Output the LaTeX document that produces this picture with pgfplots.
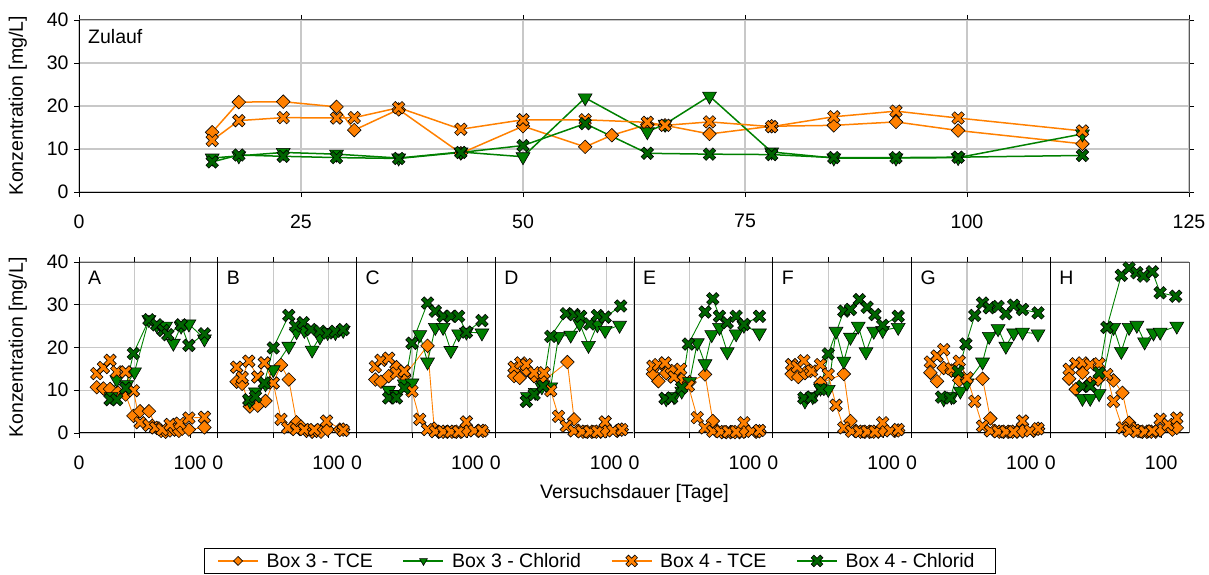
\documentclass[border=0pt]{standalone}
\usepackage{fontspec}
\setmainfont{Liberation Sans}
\usepackage{pgfplots}
\pgfplotsset{compat=1.18}

\definecolor{tceorange}{HTML}{FF8000}
\definecolor{clgreen}{HTML}{008000}
\definecolor{clgreendark}{HTML}{006400}
\definecolor{gridgray}{HTML}{C8C8C8}

% filled diamond (rotated square)
\pgfdeclareplotmark{dia}{%
  \pgfpathmoveto{\pgfqpoint{0pt}{\pgfplotmarksize}}%
  \pgfpathlineto{\pgfqpoint{\pgfplotmarksize}{0pt}}%
  \pgfpathlineto{\pgfqpoint{0pt}{-\pgfplotmarksize}}%
  \pgfpathlineto{\pgfqpoint{-\pgfplotmarksize}{0pt}}%
  \pgfpathclose
  \pgfusepathqfillstroke}
% outlined, filled cross
\pgfdeclareplotmark{fatx}{%
  \pgfpathmoveto{\pgfqpoint{-0.7\pgfplotmarksize}{1.3\pgfplotmarksize}}%
  \pgfpathlineto{\pgfqpoint{0pt}{0.6\pgfplotmarksize}}%
  \pgfpathlineto{\pgfqpoint{0.7\pgfplotmarksize}{1.3\pgfplotmarksize}}%
  \pgfpathlineto{\pgfqpoint{1.3\pgfplotmarksize}{0.7\pgfplotmarksize}}%
  \pgfpathlineto{\pgfqpoint{0.6\pgfplotmarksize}{0pt}}%
  \pgfpathlineto{\pgfqpoint{1.3\pgfplotmarksize}{-0.7\pgfplotmarksize}}%
  \pgfpathlineto{\pgfqpoint{0.7\pgfplotmarksize}{-1.3\pgfplotmarksize}}%
  \pgfpathlineto{\pgfqpoint{0pt}{-0.6\pgfplotmarksize}}%
  \pgfpathlineto{\pgfqpoint{-0.7\pgfplotmarksize}{-1.3\pgfplotmarksize}}%
  \pgfpathlineto{\pgfqpoint{-1.3\pgfplotmarksize}{-0.7\pgfplotmarksize}}%
  \pgfpathlineto{\pgfqpoint{-0.6\pgfplotmarksize}{0pt}}%
  \pgfpathlineto{\pgfqpoint{-1.3\pgfplotmarksize}{0.7\pgfplotmarksize}}%
  \pgfpathclose
  \pgfusepathqfillstroke}

\pgfplotsset{
  b3tce/.style={color=tceorange, mark=dia, mark size=6.8bp,
    mark options={draw=black, fill=tceorange, line width=0.6bp}},
  b3cl/.style={color=clgreen, mark=triangle*, mark size=8bp,
    mark options={draw=black, fill=clgreen, rotate=180, line width=0.6bp}},
  b4tce/.style={color=tceorange, mark=fatx, mark size=4.8bp,
    mark options={draw=black, fill=tceorange, line width=0.6bp}},
  b4cl/.style={color=clgreen, mark=fatx, mark size=4.8bp,
    mark options={draw=black, fill=clgreendark, line width=0.6bp}},
  base/.style={scale only axis, anchor=south west,
    xmin=0, xmax=125, ymin=0, ymax=40, ytick={0,10,20,30,40},
    grid=major, major grid style={draw=gridgray, line width=1.2bp},
    tick align=outside, major tick length=5bp,
    tick style={black, line width=0.8bp},
    axis line style={draw=black!65, line width=1bp},
    xticklabel style={yshift=-14bp},
    yticklabel style={xshift=-2bp},
    clip=false, /pgf/number format/assume math mode=true,
    every axis y label/.style={rotate=90, anchor=center}},
  panel/.style={base, width=138.75bp, height=171bp,
    xtick={0,50,100}, xticklabels={0,,100},
    every axis plot/.append style={line width=0.9bp}},
  inner/.style={panel, yticklabels={}, ytick style={draw=none}},
  legend image code/.code={%
    \draw[mark repeat=2, mark phase=2] plot coordinates {(0bp,0bp) (20bp,0bp) (40bp,0bp)};},
}

\newcommand{\frameLB}{\draw[black, line width=1bp] (rel axis cs:0,1) -- (rel axis cs:0,0) -- (rel axis cs:1,0);}
\newcommand{\plabel}[1]{\node[anchor=north west, inner sep=0pt, xshift=9bp, yshift=-9bp] at (rel axis cs:0,1) {#1};}

\begin{document}
\begin{tikzpicture}[font=\fontsize{19.5bp}{23bp}\selectfont]
\useasboundingbox (0,0) rectangle (1209bp,575bp);

% ---- inflow ----
\begin{axis}[base, at={(79bp,383bp)}, width=1110bp, height=172bp,
  xtick={0,25,50,75,100,125},
  every axis plot/.append style={line width=1.5bp},
  ylabel={Konzentration [mg/L]},
  every axis y label/.append style={at={(axis description cs:-0.055,0.5)}},
  legend columns=4,
  legend style={at={(0.4694,-2.145)}, anchor=center, draw=black, line width=0.8bp,
    inner xsep=13bp, inner ysep=1bp,
    /tikz/every even column/.append style={column sep=22bp},
    nodes={inner xsep=8bp, inner ysep=4bp}},
  legend image post style={line width=1.2bp, mark size=4.5bp},
  ]
\frameLB
\addplot[b3tce] coordinates {(15,13.9)(18,20.9)(23,21.0)(29,19.8)(31,14.4)(36,19.2)(43,9.0)(50,15.3)(57,10.5)(60,13.2)(64,15.7)(66,15.5)(71,13.5)(78,15.3)(85,15.5)(92,16.3)(99,14.3)(113,11.2)};
\addplot[b3cl] coordinates {(15,7.9)(18,8.4)(23,9.2)(29,8.8)(36,7.9)(43,9.3)(50,8.2)(57,21.9)(64,14.0)(66,15.8)(71,22.3)(78,9.3)(85,7.9)(92,7.9)(99,8.0)(113,13.5)};
\addplot[b4tce] coordinates {(15,12.0)(18,16.6)(23,17.3)(29,17.2)(31,17.3)(36,19.6)(43,14.6)(50,16.8)(57,16.8)(64,16.2)(66,15.5)(71,16.3)(78,15.2)(85,17.5)(92,18.8)(99,17.2)(113,14.2)};
\addplot[b4cl] coordinates {(15,7.0)(18,8.6)(23,8.3)(29,8.0)(36,7.8)(43,9.2)(50,10.8)(57,15.9)(64,9.0)(71,8.8)(78,8.7)(85,8.0)(92,8.0)(99,8.1)(113,8.5)};
\legend{Box 3 - TCE, Box 3 - Chlorid, Box 4 - TCE, Box 4 - Chlorid}
\plabel{Zulauf}
\end{axis}

% ---- A ----
\begin{axis}[panel, at={(79bp,142bp)},
  ylabel={Konzentration [mg/L]},
  every axis y label/.append style={at={(axis description cs:-0.44,0.5)}}]
\frameLB
\addplot[b3tce] coordinates {(16,10.7)(22,10.4)(28,10.3)(35,9.5)(42,9.0)(49,4.0)(55,5.1)(63,5.1)(70,1.2)(74,0.5)(78,0.3)(82,0.6)(86,0.8)(90,0.5)(93,1.0)(99,0.8)(113,1.3)};
\addplot[b3cl] coordinates {(29,8.5)(34,12.5)(43,11.3)(50,14.3)(63,26.5)(70,25.2)(78,25.0)(85,21.0)(92,25.0)(99,25.5)(113,22.0)};
\addplot[b4tce] coordinates {(16,13.9)(22,15.3)(28,17.0)(34,14.3)(42,14.3)(49,9.9)(55,2.4)(63,1.8)(69,1.2)(75,0.8)(82,2.0)(91,2.3)(99,3.5)(113,3.7)};
\addplot[b4cl] coordinates {(28,7.8)(34,7.8)(42,10.5)(49,18.6)(63,26.5)(70,25.3)(76,24.0)(80,23.0)(92,25.3)(99,20.5)(113,23.2)};
\plabel{A}
\end{axis}

% ---- B ----
\begin{axis}[inner, at={(217.75bp,142bp)}]
\frameLB
\addplot[b3tce] coordinates {(17,12.0)(22,11.5)(29,6.2)(36,6.4)(43,7.5)(57,15.9)(64,12.5)(71,2.5)(75,1.5)(80,0.5)(85,0.3)(89,0.5)(93,0.3)(99,0.8)(110,0.8)(113,0.8)};
\addplot[b3cl] coordinates {(29,7.5)(34,9.6)(43,11.5)(50,14.8)(64,20.3)(71,23.7)(78,24.0)(85,19.4)(92,22.5)(99,23.5)(106,23.5)(113,24.0)};
\addplot[b4tce] coordinates {(17,15.4)(22,13.0)(28,16.8)(36,13.1)(42,16.4)(50,11.7)(57,3.2)(63,1.2)(71,0.8)(78,0.8)(87,0.8)(98,2.8)(113,0.6)};
\addplot[b4cl] coordinates {(28,7.8)(34,8.5)(42,11.7)(50,19.9)(64,27.5)(70,25.0)(77,25.8)(84,24.2)(92,23.8)(99,23.4)(106,23.8)(113,24.2)};
\plabel{B}
\end{axis}

% ---- C ----
\begin{axis}[inner, at={(356.5bp,142bp)}]
\frameLB
\addplot[b3tce] coordinates {(17,12.5)(22,12.0)(29,13.3)(36,15.4)(43,13.3)(64,20.4)(70,1.0)(74,0.3)(78,0.3)(82,0.3)(86,0.3)(90,0.3)(94,0.3)(99,0.5)(110,0.5)(114,0.5)};
\addplot[b3cl] coordinates {(29,10.0)(36,9.0)(43,11.5)(50,11.7)(57,23.0)(64,16.6)(71,24.7)(78,24.7)(85,19.3)(92,23.2)(99,23.6)(113,23.4)};
\addplot[b4tce] coordinates {(17,15.5)(22,17.0)(29,17.5)(36,14.0)(43,14.5)(50,9.8)(57,3.2)(64,0.8)(71,0.3)(78,0.3)(85,0.3)(92,0.3)(99,2.6)(106,0.5)(113,0.5)};
\addplot[b4cl] coordinates {(29,8.2)(36,8.2)(43,10.5)(50,21.0)(64,30.4)(71,28.5)(78,27.3)(85,27.3)(92,27.3)(99,23.6)(113,26.3)};
\plabel{C}
\end{axis}

% ---- D ----
\begin{axis}[inner, at={(495.25bp,142bp)}]
\frameLB
\addplot[b3tce] coordinates {(17,13.3)(22,12.9)(28,14.8)(35,13.3)(43,12.1)(65,16.6)(71,3.2)(75,0.5)(79,0.3)(83,0.3)(87,0.3)(91,0.3)(95,0.3)(99,0.4)(110,0.5)(114,0.8)};
\addplot[b3cl] coordinates {(29,8.5)(36,9.5)(42,10.8)(50,10.8)(57,22.6)(68,22.9)(76,25.6)(84,20.5)(92,25.3)(99,24.0)(112,25.2)};
\addplot[b4tce] coordinates {(17,15.4)(23,16.4)(28,16.0)(35,14.1)(44,14.1)(50,9.9)(57,3.9)(64,1.6)(71,0.5)(78,0.3)(85,0.3)(92,0.3)(99,2.6)(106,0.5)(114,0.8)};
\addplot[b4cl] coordinates {(28,7.4)(35,9.0)(43,11.0)(50,22.6)(64,27.9)(71,27.7)(77,27.3)(85,25.5)(92,27.5)(99,27.1)(113,29.7)};
\plabel{D}
\end{axis}

% ---- E ----
\begin{axis}[inner, at={(634bp,142bp)}]
\frameLB
\addplot[b3tce] coordinates {(17,13.8)(22,12.1)(29,14.0)(34,14.5)(43,12.5)(50,11.9)(64,13.7)(71,2.8)(75,0.5)(79,0.2)(83,0.2)(87,0.2)(91,0.2)(95,0.2)(99,0.3)(110,0.3)(113,0.4)};
\addplot[b3cl] coordinates {(29,8.0)(36,8.5)(43,9.8)(50,12.0)(57,21.1)(64,16.2)(70,23.0)(77,24.7)(84,19.0)(92,23.2)(99,25.2)(113,23.4)};
\addplot[b4tce] coordinates {(17,15.6)(22,16.0)(28,16.4)(36,13.1)(42,14.9)(49,11.0)(57,3.6)(64,1.2)(71,0.4)(78,0.3)(85,0.3)(92,0.3)(99,2.4)(106,0.4)(113,0.6)};
\addplot[b4cl] coordinates {(28,8.1)(34,8.2)(43,10.6)(49,20.8)(64,28.3)(71,31.4)(77,27.3)(84,25.8)(92,27.3)(99,25.4)(113,27.3)};
\plabel{E}
\end{axis}

% ---- F ----
\begin{axis}[inner, at={(772.75bp,142bp)}]
\frameLB
\addplot[b3tce] coordinates {(17,13.8)(23,13.1)(29,14.0)(34,14.5)(43,11.7)(64,13.8)(70,2.8)(75,0.5)(79,0.3)(83,0.3)(87,0.3)(91,0.3)(95,0.3)(99,0.6)(110,0.5)(113,0.6)};
\addplot[b3cl] coordinates {(29,7.5)(36,8.5)(43,10.5)(50,10.2)(57,23.8)(64,16.8)(70,22.4)(77,25.0)(84,19.0)(91,23.8)(99,24.0)(113,24.7)};
\addplot[b4tce] coordinates {(17,16.0)(22,15.5)(28,16.9)(35,14.5)(43,16.0)(50,13.7)(57,6.5)(64,1.2)(71,0.4)(78,0.3)(85,0.3)(92,0.3)(99,2.4)(106,0.5)(113,0.8)};
\addplot[b4cl] coordinates {(28,8.2)(35,8.4)(43,10.2)(50,18.5)(64,28.5)(70,28.9)(78,31.2)(85,29.4)(92,27.7)(99,25.2)(113,27.3)};
\plabel{F}
\end{axis}

% ---- G ----
\begin{axis}[inner, at={(911.5bp,142bp)}]
\frameLB
\addplot[b3tce] coordinates {(17,14.1)(23,12.1)(29,15.2)(36,14.6)(43,12.3)(64,12.7)(71,3.4)(75,0.5)(79,0.3)(83,0.3)(87,0.3)(91,0.3)(95,0.3)(100,0.4)(110,0.5)(114,1.0)};
\addplot[b3cl] coordinates {(29,8.0)(36,8.5)(44,9.8)(50,11.7)(64,16.6)(70,22.6)(78,24.4)(85,20.3)(92,23.4)(100,23.6)(114,23.2)};
\addplot[b4tce] coordinates {(17,16.6)(23,18.0)(29,19.5)(36,15.0)(43,16.8)(50,12.9)(57,7.4)(64,1.6)(71,0.5)(78,0.3)(85,0.3)(92,0.3)(100,2.8)(107,0.5)(114,1.0)};
\addplot[b4cl] coordinates {(27,8.4)(35,8.2)(42,14.4)(49,20.8)(57,27.5)(64,30.4)(70,29.3)(78,29.6)(85,27.9)(92,29.9)(100,28.9)(114,28.1)};
\plabel{G}
\end{axis}

% ---- H ----
\begin{axis}[inner, at={(1050.25bp,142bp)}]
\frameLB
\addplot[b3tce] coordinates {(17,12.7)(23,10.2)(29,14.1)(36,11.7)(43,12.5)(57,12.3)(65,9.4)(71,2.4)(75,1.0)(79,0.5)(83,0.3)(87,0.3)(91,0.3)(95,0.3)(99,0.6)(110,0.8)(114,1.2)};
\addplot[b3cl] coordinates {(29,8.1)(36,8.1)(44,9.2)(57,24.7)(64,19.1)(71,24.7)(78,25.2)(85,21.3)(93,23.4)(99,23.6)(114,25.0)};
\addplot[b4tce] coordinates {(17,14.9)(23,16.2)(29,16.4)(36,16.0)(44,16.2)(51,13.7)(57,7.4)(65,1.2)(71,0.5)(78,0.3)(85,0.3)(92,0.5)(99,3.2)(106,2.0)(114,3.5)};
\addplot[b4cl] coordinates {(29,10.9)(36,11.0)(44,14.1)(51,24.7)(64,36.9)(71,38.6)(78,37.5)(84,36.7)(92,37.7)(99,32.8)(113,32.0)};
\plabel{H}
\end{axis}

\node at (634.5bp,82bp) {Versuchsdauer [Tage]};
\end{tikzpicture}
\end{document}
